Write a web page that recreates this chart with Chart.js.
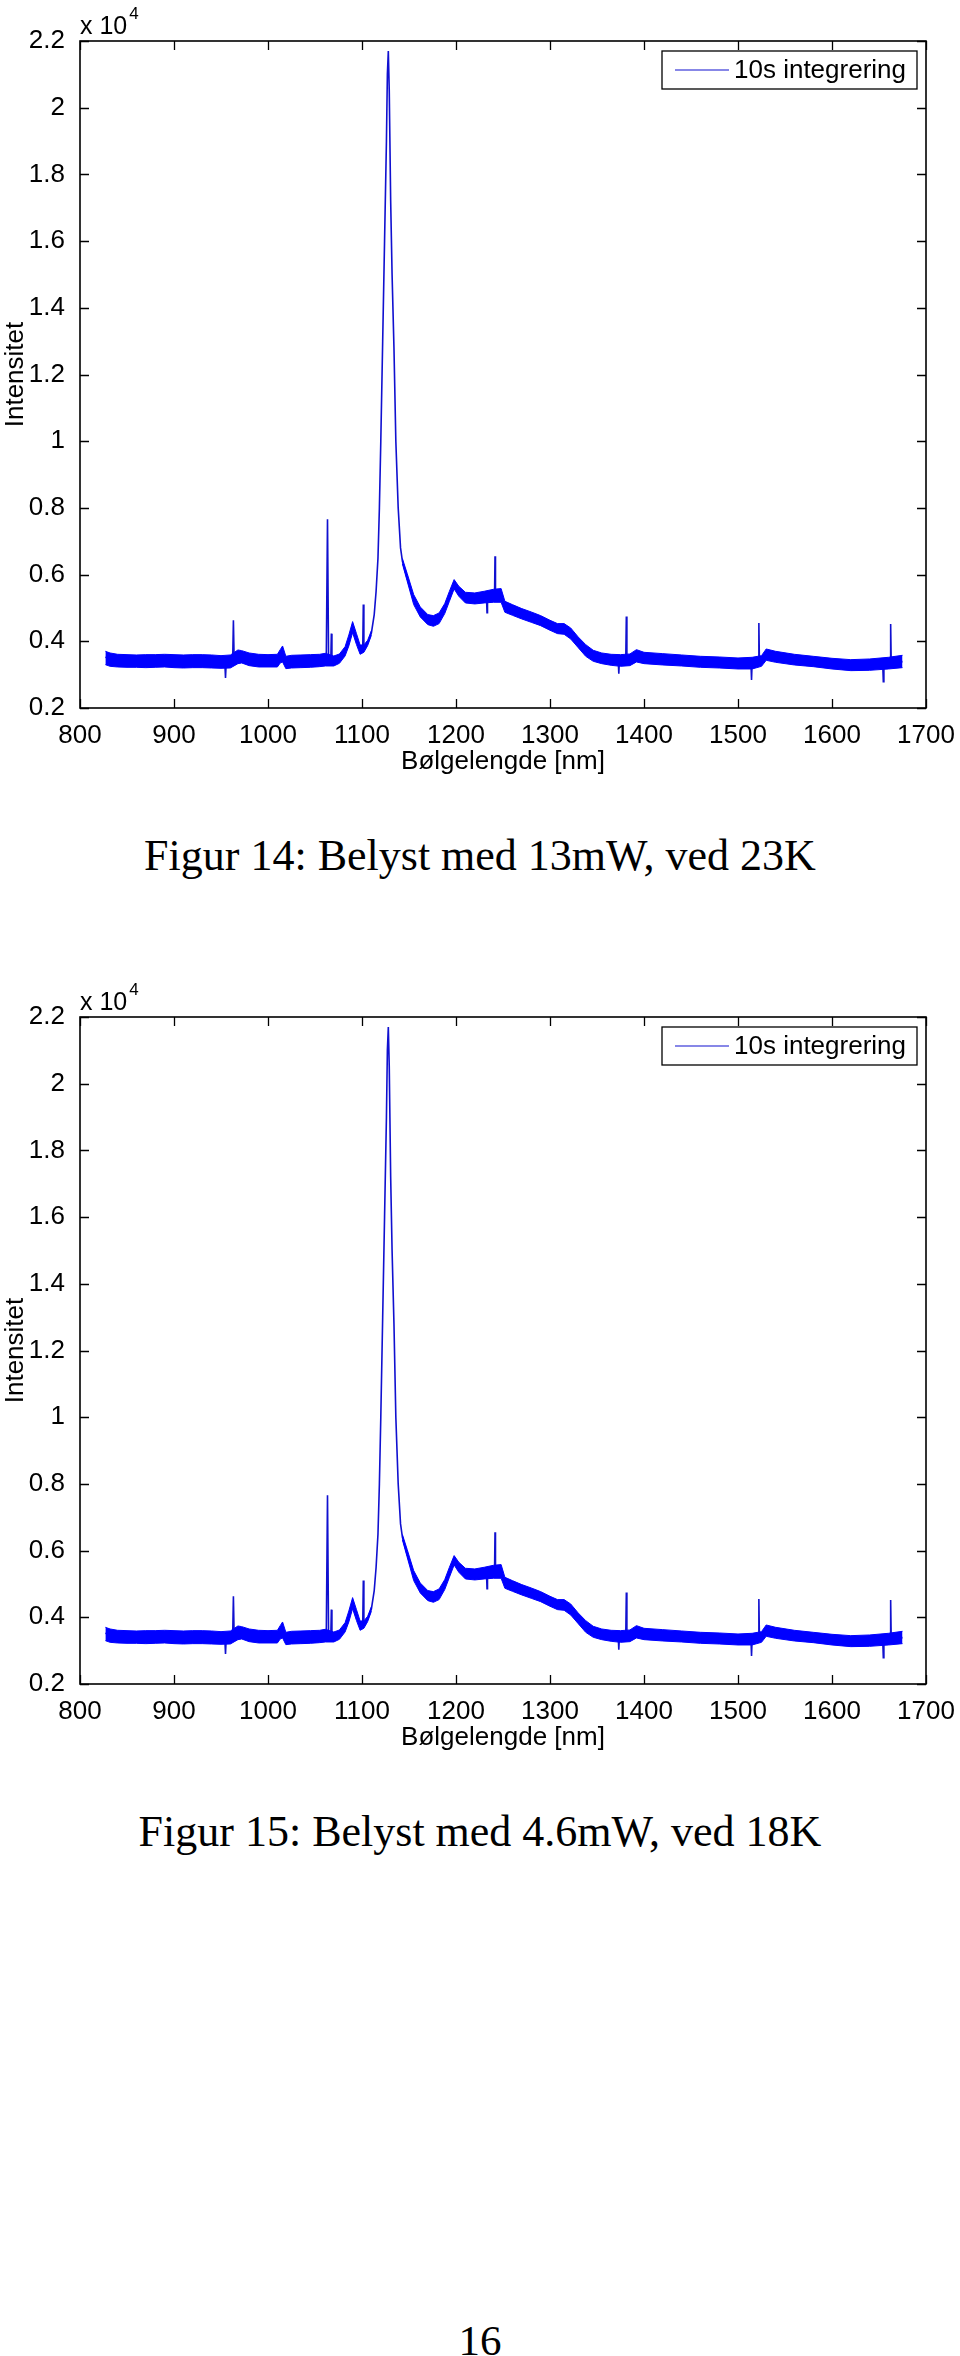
<!DOCTYPE html>
<html>
<head>
<meta charset="utf-8">
<script src="https://cdn.jsdelivr.net/npm/chart.js@4.4.1/dist/chart.umd.min.js"></script>
<style>
  html, body { margin: 0; padding: 0; background: #fff; }
  body { width: 960px; height: 2356px; position: relative; overflow: hidden; }
  .fig { position: absolute; left: 0; width: 960px; height: 800px; }
  .caption { position: absolute; left: 0; width: 960px; text-align: center;
             font-family: "Liberation Serif", "Times New Roman", serif;
             font-size: 44px; line-height: 44px; color: #000; white-space: nowrap; }
</style>
</head>
<body>
<div class="fig" style="top:0"><canvas id="fig14" width="960" height="800"></canvas></div>
<div class="caption" style="top:834px">Figur 14: Belyst med 13mW, ved 23K</div>
<div class="fig" style="top:976px"><canvas id="fig15" width="960" height="800"></canvas></div>
<div class="caption" style="top:1810px">Figur 15: Belyst med 4.6mW, ved 18K</div>
<div class="caption" style="top:2319px;font-size:43px;line-height:43px">16</div>

<script>
// axis ticks
const xTicks = [800, 900, 1000, 1100, 1200, 1300, 1400, 1500, 1600, 1700];
const xTickLabels = ["800", "900", "1000", "1100", "1200", "1300", "1400", "1500", "1600", "1700"];
const yTickLabels = ["0.2", "0.4", "0.6", "0.8", "1", "1.2", "1.4", "1.6", "1.8", "2", "2.2"];

// spectrum centre line (wavelength nm, intensity counts), incl. single-pixel spikes
const lineWl = [827, 840, 900, 954, 954.8, 955.6, 962.4, 963.2, 964, 968, 975, 1000,
  1013, 1015.5, 1018, 1040, 1062, 1063.3, 1064.4, 1066.8, 1067.4, 1068, 1075, 1082,
  1086, 1090, 1094, 1098, 1100.8, 1101.4, 1102, 1106, 1110, 1113, 1115, 1117, 1118.5,
  1120, 1122, 1124, 1126, 1127, 1128, 1129, 1130.5, 1132, 1134, 1136, 1138.5, 1141,
  1143, 1148, 1155, 1162, 1170, 1176, 1182, 1188, 1193, 1197.5, 1203, 1210, 1220,
  1232.5, 1233, 1233.5, 1241, 1241.5, 1242, 1249, 1251, 1270, 1290, 1300, 1308, 1315,
  1322, 1330, 1338, 1346, 1360, 1372.6, 1373.2, 1373.8, 1380.6, 1381.2, 1381.8, 1392,
  1420, 1460, 1500, 1513.8, 1514.4, 1515, 1521.6, 1522.2, 1522.8, 1530, 1560, 1600,
  1620, 1654, 1654.6, 1655.2, 1661.8, 1662.4, 1663, 1675];
const lineVal = [3520, 3420, 3410, 3400, 2900, 3400, 3410, 4630, 3420, 3540, 3520, 3420,
  3550, 3720, 3380, 3400, 3450, 7660, 3600, 3400, 4230, 3450, 3480, 3700,
  4020, 4450, 4070, 3750, 3780, 5100, 3780, 3950, 4250, 4800, 5500, 6500, 8000,
  10000, 13000, 16000, 19000, 21000, 21700, 20500, 17200, 15000, 12800, 10000, 8000, 6800,
  6400, 5900, 5250, 4880, 4650, 4610, 4690, 4980, 5350, 5720, 5500, 5310, 5280,
  5300, 4860, 5300, 5350, 6550, 5350, 5380, 5040, 4820, 4620, 4480, 4380, 4370,
  4230, 3970, 3720, 3560, 3450, 3420, 3030, 3420, 3430, 4740, 3430, 3560,
  3460, 3380, 3330, 3340, 2840, 3340, 3370, 4550, 3370, 3600, 3450, 3330,
  3280, 3300, 2790, 3300, 3340, 4520, 3340, 3390];

// noise band edges (same wavelengths for both), null = gap under the main peak
const bandWl = [827, 832, 840, 850, 860, 870, 880, 890, 900, 910, 920, 930, 940, 950,
  960, 968, 972, 980, 990, 1000, 1010, 1013, 1015.5, 1019, 1025, 1035, 1045, 1055,
  1061, 1070, 1076, 1082, 1086, 1090, 1094, 1098, 1102, 1106, 1110, 1126,
  1143, 1148, 1155, 1162, 1170, 1176, 1182, 1188, 1193, 1198, 1203, 1210, 1220,
  1230, 1240, 1248, 1252, 1260, 1270, 1280, 1290, 1300, 1308, 1315, 1322, 1330,
  1338, 1346, 1355, 1365, 1375, 1385, 1392, 1400, 1420, 1440, 1460, 1480, 1500,
  1515, 1525, 1530, 1540, 1560, 1580, 1600, 1620, 1640, 1660, 1675];
const bandUpper = [3700, 3650, 3610, 3600, 3590, 3600, 3600, 3610, 3600, 3590, 3600, 3600, 3590, 3570,
  3590, 3740, 3720, 3650, 3610, 3600, 3610, 3750, 3860, 3550, 3580, 3590, 3600, 3610,
  3640, 3560, 3620, 3840, 4190, 4590, 4240, 3890, 3890, 4030, 4320, null,
  6480, 6040, 5400, 5030, 4800, 4770, 4850, 5130, 5500, 5850, 5650, 5470, 5450,
  5500, 5560, 5580, 5200, 5100, 4980, 4880, 4770, 4630, 4530, 4530, 4400, 4130,
  3900, 3730, 3650, 3610, 3600, 3620, 3750, 3670, 3630, 3590, 3550, 3530, 3500,
  3520, 3570, 3770, 3700, 3610, 3550, 3490, 3450, 3470, 3520, 3580];
const bandLower = [3300, 3250, 3230, 3220, 3220, 3210, 3220, 3230, 3210, 3200, 3210, 3210, 3200, 3190,
  3200, 3330, 3350, 3270, 3230, 3230, 3230, 3350, 3380, 3180, 3200, 3210, 3220, 3240,
  3260, 3260, 3340, 3560, 3860, 4260, 3910, 3610, 3670, 3870, 4180, null,
  6320, 5810, 5100, 4730, 4500, 4450, 4530, 4830, 5200, 5570, 5350, 5150, 5120,
  5150, 5170, 5170, 4870, 4780, 4670, 4570, 4470, 4330, 4230, 4210, 4070, 3810,
  3550, 3400, 3330, 3280, 3250, 3270, 3380, 3330, 3290, 3260, 3220, 3200, 3170,
  3170, 3250, 3430, 3370, 3290, 3240, 3170, 3120, 3130, 3170, 3210];

const seriesLabel = "10s integrering";
const blue = "#0000ff";
const sans = "'Liberation Sans', Arial, Helvetica, sans-serif";

function pts(xs, ys) {
  return xs.map((x, i) => ({ x: x, y: ys[i] }));
}

// MATLAB-like box: inward ticks, frame, x10^4 multiplier, boxed legend
const matlabBox = {
  id: "matlabBox",
  afterDraw(chart) {
    const ctx = chart.ctx;
    const { left, right, top, bottom } = chart.chartArea;
    const xs = chart.scales.x, ys = chart.scales.y;
    const tl = 9;
    ctx.save();
    ctx.strokeStyle = "#000";
    ctx.lineWidth = 1.3;
    ctx.beginPath();
    xs.ticks.forEach(t => {
      const px = Math.round(xs.getPixelForValue(t.value)) + 0.5;
      ctx.moveTo(px, bottom); ctx.lineTo(px, bottom - tl);
      ctx.moveTo(px, top); ctx.lineTo(px, top + tl);
    });
    ys.ticks.forEach(t => {
      const py = Math.round(ys.getPixelForValue(t.value)) + 0.5;
      ctx.moveTo(left, py); ctx.lineTo(left + tl, py);
      ctx.moveTo(right, py); ctx.lineTo(right - tl, py);
    });
    ctx.stroke();
    ctx.lineWidth = 1.6;
    ctx.strokeRect(left, top, right - left, bottom - top);

    // exponent
    ctx.fillStyle = "#000";
    ctx.textBaseline = "alphabetic";
    ctx.textAlign = "left";
    ctx.font = "25px " + sans;
    ctx.fillText("x 10", left, top - 7);
    const w = ctx.measureText("x 10").width;
    ctx.font = "17px " + sans;
    ctx.fillText("4", left + w + 2, top - 22);

    // legend
    const lw = 255, lh = 38;
    const lx = right - 9 - lw, ly = top + 10;
    ctx.fillStyle = "#fff";
    ctx.fillRect(lx, ly, lw, lh);
    ctx.lineWidth = 1.3;
    ctx.strokeStyle = "#000";
    ctx.strokeRect(lx, ly, lw, lh);
    const ds = chart.data.datasets[2];
    ctx.strokeStyle = ds.borderColor;
    ctx.lineWidth = 1.2;
    ctx.beginPath();
    ctx.moveTo(lx + 13, ly + lh / 2);
    ctx.lineTo(lx + 67, ly + lh / 2);
    ctx.stroke();
    ctx.fillStyle = "#000";
    ctx.font = "26px " + sans;
    ctx.textBaseline = "middle";
    ctx.fillText(ds.label, lx + 72, ly + lh / 2 + 1);
    ctx.restore();
  }
};

function makeChart(id) {
  const ctx = document.getElementById(id).getContext("2d");
  return new Chart(ctx, {
    type: "line",
    data: {
      datasets: [
        {
          label: "band upper",
          data: pts(bandWl, bandUpper),
          borderColor: blue,
          borderWidth: 1,
          pointRadius: 0,
          fill: false,
          spanGaps: false
        },
        {
          label: "band lower",
          data: pts(bandWl, bandLower),
          borderColor: blue,
          backgroundColor: blue,
          borderWidth: 1,
          pointRadius: 0,
          fill: "-1",
          spanGaps: false
        },
        {
          label: seriesLabel,
          data: pts(lineWl, lineVal),
          borderColor: "#1010d0",
          borderWidth: 1.6,
          pointRadius: 0,
          fill: false,
          tension: 0
        }
      ]
    },
    options: {
      responsive: false,
      animation: false,
      devicePixelRatio: 1,
      layout: { padding: { top: 41, right: 34, left: 0, bottom: 0 } },
      plugins: {
        legend: { display: false },
        tooltip: { enabled: false }
      },
      scales: {
        x: {
          type: "linear",
          min: 800,
          max: 1700,
          afterBuildTicks: s => { s.ticks = xTicks.map(v => ({ value: v })); },
          afterFit: s => { s.height = 92; },
          grid: { display: false },
          border: { display: false },
          ticks: {
            autoSkip: false,
            maxRotation: 0,
            padding: 4,
            color: "#000",
            font: { family: sans, size: 26 },
            callback: (v, i) => xTickLabels[i]
          },
          title: {
            display: true,
            text: "Bølgelengde [nm]",
            color: "#000",
            font: { family: sans, size: 26 },
            padding: { top: 0, bottom: 23 }
          }
        },
        y: {
          type: "linear",
          min: 2000,
          max: 22000,
          afterFit: s => { s.width = 80; },
          grid: { display: false },
          border: { display: false },
          ticks: {
            stepSize: 2000,
            padding: 7,
            color: "#000",
            font: { family: sans, size: 26 },
            callback: (v, i) => yTickLabels[i]
          },
          title: {
            display: true,
            text: "Intensitet",
            color: "#000",
            font: { family: sans, size: 26 },
            padding: { top: 0, bottom: 0 }
          }
        }
      }
    },
    plugins: [matlabBox]
  });
}

makeChart("fig14");
makeChart("fig15");
</script>
</body>
</html>
